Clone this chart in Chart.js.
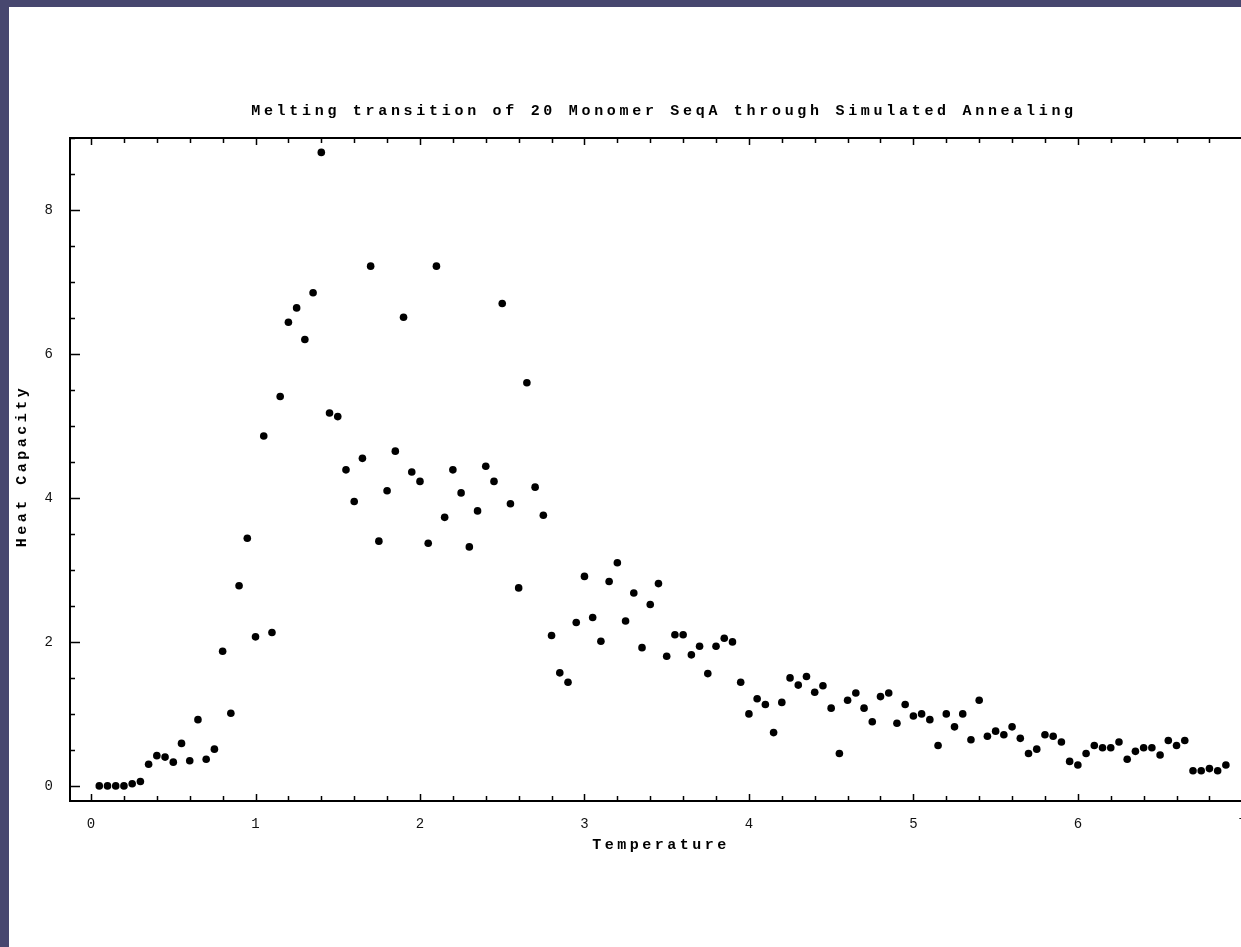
<!DOCTYPE html>
<html>
<head>
<meta charset="utf-8">
<script src="https://cdn.jsdelivr.net/npm/chart.js@4.4.1/dist/chart.umd.min.js"></script>
<style>
  html, body { margin:0; padding:0; width:1241px; height:947px; overflow:hidden; background:#47476f; }
  #wrap { position:absolute; left:9px; top:7px; width:1300px; height:940px; background:#ffffff; }
  canvas { display:block; }
</style>
</head>
<body>
<div id="wrap"><canvas id="c" width="1300" height="940"></canvas></div>
<script>
// ---- data ----
const chartTitle = "Melting transition of 20 Monomer SeqA through Simulated Annealing";
const xTitle = "Temperature";
const yTitle = "Heat Capacity";
const xTickValues = [0, 1, 2, 3, 4, 5, 6, 7];
const yTickValues = [0, 2, 4, 6, 8];
const temperature = [
  0.05,0.10,0.15,0.20,0.25,0.30,0.35,0.40,0.45,0.50,
  0.55,0.60,0.65,0.70,0.75,0.80,0.85,0.90,0.95,1.00,
  1.05,1.10,1.15,1.20,1.25,1.30,1.35,1.40,1.45,1.50,
  1.55,1.60,1.65,1.70,1.75,1.80,1.85,1.90,1.95,2.00,
  2.05,2.10,2.15,2.20,2.25,2.30,2.35,2.40,2.45,2.50,
  2.55,2.60,2.65,2.70,2.75,2.80,2.85,2.90,2.95,3.00,
  3.05,3.10,3.15,3.20,3.25,3.30,3.35,3.40,3.45,3.50,
  3.55,3.60,3.65,3.70,3.75,3.80,3.85,3.90,3.95,4.00,
  4.05,4.10,4.15,4.20,4.25,4.30,4.35,4.40,4.45,4.50,
  4.55,4.60,4.65,4.70,4.75,4.80,4.85,4.90,4.95,5.00,
  5.05,5.10,5.15,5.20,5.25,5.30,5.35,5.40,5.45,5.50,
  5.55,5.60,5.65,5.70,5.75,5.80,5.85,5.90,5.95,6.00,
  6.05,6.10,6.15,6.20,6.25,6.30,6.35,6.40,6.45,6.50,
  6.55,6.60,6.65,6.70,6.75,6.80,6.85,6.90
];
const heatCapacity = [
  0.00,0.00,0.00,0.00,0.03,0.06,0.30,0.42,0.40,0.33,
  0.59,0.35,0.92,0.37,0.51,1.87,1.01,2.78,3.44,2.07,
  4.86,2.13,5.41,6.44,6.64,6.20,6.85,8.80,5.18,5.13,
  4.39,3.95,4.55,7.22,3.40,4.10,4.65,6.51,4.36,4.23,
  3.37,7.22,3.73,4.39,4.07,3.32,3.82,4.44,4.23,6.70,
  3.92,2.75,5.60,4.15,3.76,2.09,1.57,1.44,2.27,2.91,
  2.34,2.01,2.84,3.10,2.29,2.68,1.92,2.52,2.81,1.80,
  2.10,2.10,1.82,1.94,1.56,1.94,2.05,2.00,1.44,1.00,
  1.21,1.13,0.74,1.16,1.50,1.40,1.52,1.30,1.39,1.08,
  0.45,1.19,1.29,1.08,0.89,1.24,1.29,0.87,1.13,0.97,
  1.00,0.92,0.56,1.00,0.82,1.00,0.64,1.19,0.69,0.76,
  0.71,0.82,0.66,0.45,0.51,0.71,0.69,0.61,0.34,0.29,
  0.45,0.56,0.53,0.53,0.61,0.37,0.48,0.53,0.53,0.43,
  0.63,0.56,0.63,0.21,0.21,0.24,0.21,0.29
];

// ---- chart ----
const FONT = "'Liberation Mono', 'DejaVu Sans Mono', monospace";

const framePlugin = {
  id: 'frameAndText',
  afterDraw(chart) {
    const ctx = chart.ctx, a = chart.chartArea, xs = chart.scales.x, ys = chart.scales.y;
    ctx.save();
    ctx.strokeStyle = '#000';
    ctx.lineWidth = 2;
    ctx.strokeRect(a.left, a.top, a.right - a.left, a.bottom - a.top);
    ctx.lineWidth = 1.5;
    ctx.beginPath();
    for (let i = 0; i <= 36; i++) {
      const v = i * 0.2;
      if (v < xs.min || v > xs.max) continue;
      const px = Math.round(xs.getPixelForValue(v)) + 0.5;
      const len = (i % 5 === 0) ? 7 : 5;
      ctx.moveTo(px, a.bottom); ctx.lineTo(px, a.bottom - len);
      ctx.moveTo(px, a.top); ctx.lineTo(px, a.top + len);
    }
    for (let i = 0; i <= 18; i++) {
      const v = i * 0.5;
      if (v < ys.min || v > ys.max) continue;
      const py = Math.round(ys.getPixelForValue(v)) + 0.5;
      const len = (i % 4 === 0) ? 10 : 5;
      ctx.moveTo(a.left, py); ctx.lineTo(a.left + len, py);
      ctx.moveTo(a.right, py); ctx.lineTo(a.right - len, py);
    }
    ctx.stroke();

    ctx.fillStyle = '#000';
    ctx.textAlign = 'center';
    ctx.textBaseline = 'middle';
    ctx.font = 'bold 15px ' + FONT;
    ctx.letterSpacing = '3.7px';
    ctx.fillText(chartTitle, 655, 104);
    ctx.letterSpacing = '3.5px';
    ctx.fillText(xTitle, 652, 838);
    ctx.save();
    ctx.translate(13, 459);
    ctx.rotate(-Math.PI / 2);
    ctx.fillText(yTitle, 0, 0);
    ctx.restore();
    ctx.restore();
  }
};

new Chart(document.getElementById('c'), {
  type: 'scatter',
  data: {
    datasets: [{
      data: temperature.map((t, i) => ({ x: t, y: heatCapacity[i] })),
      backgroundColor: '#000',
      borderWidth: 0,
      pointRadius: 3.8,
      pointHoverRadius: 3.8,
      pointStyle: 'circle'
    }]
  },
  options: {
    responsive: false,
    animation: false,
    devicePixelRatio: 1,
    layout: { padding: { top: 131, right: 42, left: 0, bottom: 0 } },
    plugins: { legend: { display: false }, tooltip: { enabled: false }, title: { display: false } },
    scales: {
      x: {
        type: 'linear',
        min: -0.128,
        max: 7.15,
        grid: { display: false, drawTicks: false },
        border: { display: true, color: '#000', width: 2 },
        ticks: { color: '#111', font: { family: FONT, size: 14 }, padding: 15, maxRotation: 0, autoSkip: false },
        afterBuildTicks: s => { s.ticks = xTickValues.map(v => ({ value: v })); },
        afterFit: s => { s.height = 146; }
      },
      y: {
        type: 'linear',
        min: -0.21,
        max: 9.0,
        grid: { display: false, drawTicks: false },
        border: { display: true, color: '#000', width: 2 },
        ticks: { color: '#111', font: { family: FONT, size: 14 }, padding: 17, autoSkip: false },
        afterBuildTicks: s => { s.ticks = yTickValues.map(v => ({ value: v })); },
        afterFit: s => { s.width = 61; }
      }
    }
  },
  plugins: [framePlugin]
});
</script>
</body>
</html>
